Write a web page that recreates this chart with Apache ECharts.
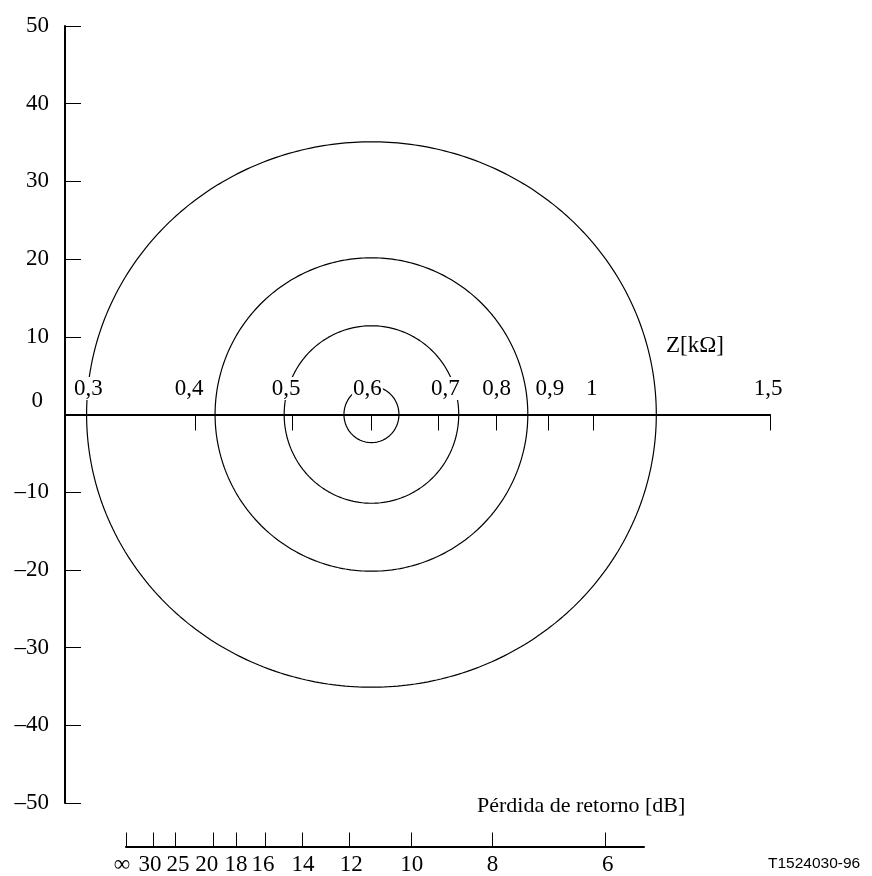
<!DOCTYPE html>
<html>
<head>
<meta charset="utf-8">
<script src="https://cdn.jsdelivr.net/npm/echarts@6/dist/echarts.min.js"></script>
<style>
  html, body { margin: 0; padding: 0; background: #fff; }
  #chart { width: 872px; height: 876px; }
</style>
</head>
<body>
<div id="chart"></div>
<script>
// Reference impedance (kΩ) and the return-loss levels of the drawn contours (dB)
const referenceImpedance = 0.6;
const contourLevels = [10, 15, 20, 30];

// |Z| scale (kΩ): labelled values and tick marks
const impedanceLabels = [0.3, 0.4, 0.5, 0.6, 0.7, 0.8, 0.9, 1, 1.5];
const impedanceTicks = [0.4, 0.5, 0.6, 0.7, 0.8, 0.9, 1, 1.5];

// Phase angle scale (degrees)
const angleMin = -50;
const angleMax = 50;
const angleStep = 10;

// Return loss scale (dB); Infinity stands for a perfect match
const returnLossTicks = [Infinity, 30, 25, 20, 18, 16, 14, 12, 10, 8, 6];

// ---- layout -------------------------------------------------------------
const SERIF = '"Liberation Serif", "Times New Roman", serif';
const SANS = '"Liberation Sans", Arial, sans-serif';
const zAxisMin = 0.2966;          // kΩ at the left edge of the plot
const zAxisMax = 1.5;             // kΩ at the right edge
const plotLeft = 65, plotTop = 26, plotWidth = 705, plotHeight = 777;
const pxPerDecade = plotWidth / Math.log10(zAxisMax / zAxisMin);
// the |Z| axis runs along the 0° line of the angle scale
const zeroLineHeight = plotHeight * angleMax / (angleMax - angleMin);
const rlLeft = 126, rlWidth = 518, rlBottom = 849;
// small horizontal nudges (px) of the tick labels away from crowded spots
const zLabelShift = [18.5, -6, -6, -4, 7, 0, 2, -2, -2];
const rlLabelShift = [-4, -3.5, 3, -6.5, 0, -2, 1, 2, 1, 0, 2.5];

// Position of a return loss on its scale: log10 of the |Z|/Z0 ratio it gives
function rlToDecades(rl) {
  const rho = Math.pow(10, -rl / 20);
  return Math.log10((1 + rho) / (1 - rho));
}

// Locus of constant return loss: |Γ| = 10^(-RL/20), Z = Z0 (1+Γ)/(1-Γ),
// plotted as log10|Z| against arg Z in degrees
function contour(rl) {
  const rho = Math.pow(10, -rl / 20);
  const pts = [];
  for (let k = 0; k <= 360; k++) {
    const t = k * Math.PI / 180;
    const c = rho * Math.cos(t), s = rho * Math.sin(t);
    const mag = Math.hypot(1 + c, s) / Math.hypot(1 - c, -s);
    const arg = Math.atan2(s, 1 + c) - Math.atan2(-s, 1 - c);
    pts.push([Math.log10(referenceImpedance * mag), arg * 180 / Math.PI]);
  }
  return pts;
}

function findIndex(values, v) {
  let best = 0, bd = Infinity;
  values.forEach((x, i) => { const d = Math.abs(x - v); if (d < bd) { bd = d; best = i; } });
  return best;
}

// spacer tokens of fixed width for nudging rich labels
const spacers = {};
for (let w = 1; w <= 60; w++) spacers['w' + w] = { width: w };

function nudged(text, shift, token) {
  const w = Math.round(Math.abs(shift) * 2);
  if (w === 0) return '{' + token + '|' + text + '}';
  const sp = '{w' + w + '| }';
  return shift > 0 ? sp + '{' + token + '|' + text + '}' : '{' + token + '|' + text + '}' + sp;
}

const zLabelValues = impedanceLabels.map(Math.log10);
const rlValues = returnLossTicks.map(rlToDecades);

const chart = echarts.init(document.getElementById('chart'), null, { renderer: 'canvas' });

const option = {
  backgroundColor: '#fff',
  animation: false,
  title: [
    { text: 'Z[kΩ]', left: 666, top: 334, padding: 0,
      textStyle: { fontFamily: SERIF, fontSize: 23, fontWeight: 'normal', color: '#000' } },
    { text: 'Pérdida de retorno [dB]', left: 477, top: 795, padding: 0,
      textStyle: { fontFamily: SERIF, fontSize: 22, fontWeight: 'normal', color: '#000' } },
    { text: 'T1524030-96', left: 768, top: 856, padding: 0,
      textStyle: { fontFamily: SANS, fontSize: 15.5, fontWeight: 'normal', color: '#000' } }
  ],
  grid: [
    // plotting area: log10|Z| against phase angle
    { left: plotLeft, top: plotTop, width: plotWidth, height: plotHeight, containLabel: false },
    // return loss scale under the plot
    { left: rlLeft, top: rlBottom - 40, width: rlWidth, height: 40, containLabel: false },
    // upper half of the plot, whose bottom edge carries the |Z| axis
    { left: plotLeft, top: plotTop, width: plotWidth, height: zeroLineHeight, containLabel: false }
  ],
  xAxis: [
    {
      type: 'value', gridIndex: 0, show: false,
      min: Math.log10(zAxisMin), max: Math.log10(zAxisMax)
    },
    {
      type: 'value', gridIndex: 1, position: 'bottom',
      min: 0, max: rlWidth / pxPerDecade,
      axisLine: { show: true, onZero: false, lineStyle: { color: '#000', width: 2 } },
      axisTick: { show: true, inside: true, length: 14,
        lineStyle: { color: '#000', width: 1 },
        customValues: rlValues },
      axisLabel: {
        show: true, margin: 7,
        customValues: rlValues,
        formatter: (v) => {
          const i = findIndex(rlValues, v);
          const rl = returnLossTicks[i];
          return nudged(rl === Infinity ? '∞' : String(rl), rlLabelShift[i], 'r');
        },
        rich: Object.assign({
          r: { fontFamily: SERIF, fontSize: 23, color: '#000', lineHeight: 22 }
        }, spacers)
      },
      splitLine: { show: false }
    },
    {
      type: 'value', gridIndex: 2, position: 'bottom', z: 5,
      min: Math.log10(zAxisMin), max: Math.log10(zAxisMax),
      axisLine: { show: true, onZero: false, lineStyle: { color: '#000', width: 2 } },
      axisTick: { show: true, inside: false, length: 16,
        lineStyle: { color: '#000', width: 1 },
        customValues: impedanceTicks.map(Math.log10) },
      axisLabel: {
        show: true, inside: true, margin: 16,
        customValues: zLabelValues,
        formatter: (v) => {
          const i = findIndex(zLabelValues, v);
          return nudged(String(impedanceLabels[i]).replace('.', ','), zLabelShift[i], 't');
        },
        rich: Object.assign({
          t: { fontFamily: SERIF, fontSize: 23, color: '#000', backgroundColor: '#fff',
               lineHeight: 20, padding: [0, 1] }
        }, spacers)
      },
      splitLine: { show: false }
    }
  ],
  yAxis: [
    {
      type: 'value', gridIndex: 0,
      min: angleMin, max: angleMax, interval: angleStep,
      axisLine: { show: true, onZero: false, lineStyle: { color: '#000', width: 2 } },
      axisTick: { show: true, inside: true, length: 16, lineStyle: { color: '#000', width: 1 } },
      axisLabel: {
        show: true, margin: 16, fontFamily: SERIF, fontSize: 23, color: '#000',
        formatter: (v) => v === 0 ? '{z|0}' : String(v).replace('-', '\u2013'),
        rich: { z: { fontFamily: SERIF, fontSize: 23, color: '#000', padding: [0, 6, 28, 0] } }
      },
      splitLine: { show: false }
    },
    { type: 'value', gridIndex: 1, show: false, min: 0, max: 1 },
    { type: 'value', gridIndex: 2, show: false, min: 0, max: angleMax }
  ],
  series: contourLevels.map((rl) => ({
    name: rl + ' dB',
    type: 'line',
    xAxisIndex: 0, yAxisIndex: 0,
    data: contour(rl),
    showSymbol: false,
    silent: true,
    z: 2,
    lineStyle: { color: '#000', width: 1.2 }
  }))
};

chart.setOption(option);
</script>
</body>
</html>
